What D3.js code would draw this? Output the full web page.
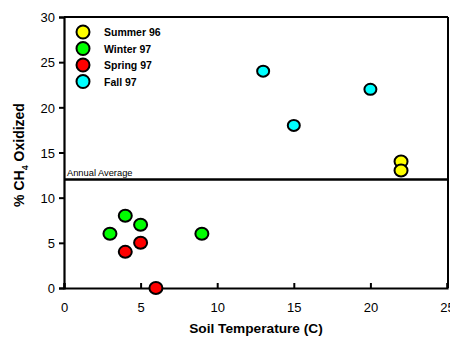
<!DOCTYPE html>
<html><head><meta charset="utf-8">
<script src="https://cdn.jsdelivr.net/npm/d3@7"></script>
<style>body{margin:0;background:#fff;} svg{display:block;font-family:Arial,"Liberation Sans",sans-serif;}</style>
</head><body>
<svg id="c" width="450" height="338"></svg>
<script>
const seriesNames = ["Summer 96", "Winter 97", "Spring 97", "Fall 97"];
const seriesColors = ["#ffff00", "#00ff00", "#ff0000", "#00ffff"];
const summerX = [22, 22];
const summerY = [14, 13];
const winterX = [3, 4, 5, 9];
const winterY = [6, 8, 7, 6];
const springX = [4, 5, 6];
const springY = [4, 5, 0];
const fallX = [13, 15, 20];
const fallY = [24, 18, 22];
const xTicks = [0, 5, 10, 15, 20, 25];
const yTicks = [0, 5, 10, 15, 20, 25, 30];
const annualAverage = 12;

const svg = d3.select("#c");
const L = 64, R = 447, T = 17, B = 288;
const x = d3.scaleLinear().domain([0, 25]).range([L, R]);
const y = d3.scaleLinear().domain([0, 30]).range([B, T]);

// frame top/right
svg.append("line").attr("x1", L).attr("x2", 448).attr("y1", T).attr("y2", T).attr("stroke", "#000").attr("stroke-width", 2);
svg.append("line").attr("x1", 448).attr("x2", 448).attr("y1", T).attr("y2", B).attr("stroke", "#000").attr("stroke-width", 2);

// axes
const xAxis = svg.append("g").attr("transform", `translate(0,${B})`)
  .call(d3.axisBottom(x).tickValues(xTicks).tickSize(-5).tickPadding(21).tickFormat(d3.format("d")));
const yAxis = svg.append("g").attr("transform", `translate(${L},0)`)
  .call(d3.axisLeft(y).tickValues(yTicks).tickSize(5).tickPadding(4).tickFormat(d3.format("d")));
[xAxis, yAxis].forEach(g => {
  g.select(".domain").attr("stroke", "#000").attr("stroke-width", 2.2);
  g.selectAll(".tick line").attr("stroke", "#000").attr("stroke-width", 2);
  g.selectAll(".tick text").attr("font-size", 13).attr("fill", "#000").attr("font-family", "Arial, 'Liberation Sans', sans-serif");
});
xAxis.selectAll(".tick text").attr("dy", "0.2em");
yAxis.selectAll(".tick text").attr("dy", "0.36em");

// annual average
svg.append("line").attr("x1", L).attr("x2", 448).attr("y1", y(annualAverage)).attr("y2", y(annualAverage))
  .attr("stroke", "#000").attr("stroke-width", 2.5);
svg.append("text").attr("x", 67).attr("y", y(annualAverage) - 3.5).attr("font-size", 9.3).text("Annual Average");

// points
const series = [
  {xs: summerX, ys: summerY},
  {xs: winterX, ys: winterY},
  {xs: springX, ys: springY},
  {xs: fallX, ys: fallY}
];
series.forEach((s, i) => {
  const pts = s.xs.map((v, j) => [v, s.ys[j]]);
  svg.append("g").selectAll("ellipse").data(pts).join("ellipse")
    .attr("cx", d => x(d[0])).attr("cy", d => y(d[1]))
    .attr("rx", i === 3 ? 6 : 6.5).attr("ry", i === 3 ? 5.5 : 6)
    .attr("fill", seriesColors[i]).attr("stroke", "#000").attr("stroke-width", 2);
});

// legend
const lg = svg.append("g");
seriesNames.forEach((n, i) => {
  const cy = 32 + i * 16.5;
  lg.append("ellipse").attr("cx", 83).attr("cy", cy).attr("rx", 6.5).attr("ry", 6.5)
    .attr("fill", seriesColors[i]).attr("stroke", "#000").attr("stroke-width", 2);
  lg.append("text").attr("x", 104).attr("y", cy + 4).attr("font-size", 10.5).attr("font-weight", "bold").text(n);
});

// axis titles
svg.append("text").attr("x", 256).attr("y", 333).attr("text-anchor", "middle")
  .attr("font-size", 13.7).attr("font-weight", "bold").text("Soil Temperature (C)");
const yt = svg.append("text").attr("transform", "translate(24,155) rotate(-90)").attr("text-anchor", "middle")
  .attr("font-size", 14).attr("font-weight", "bold");
yt.append("tspan").text("% CH");
yt.append("tspan").attr("font-size", 9).attr("dy", 4).text("4");
yt.append("tspan").attr("dy", -4).text(" Oxidized");
</script>
</body></html>
